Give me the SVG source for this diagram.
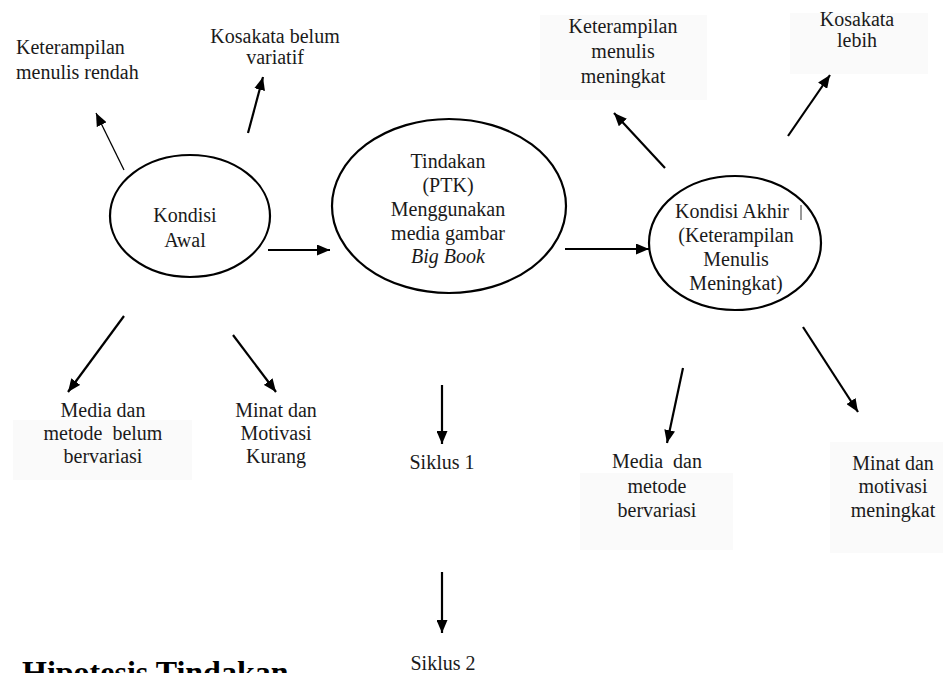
<svg xmlns="http://www.w3.org/2000/svg" width="943" height="673" viewBox="0 0 943 673">
<defs>
<marker id="ah" markerUnits="userSpaceOnUse" markerWidth="13" markerHeight="11" refX="13" refY="5.5" orient="auto">
<path d="M0,0 L13,5.5 L0,11 z" fill="#000"/>
</marker>
<style>
text{font-family:"Liberation Serif","Times New Roman",serif;font-size:20px;fill:#1a1a1a}
.c{text-anchor:middle}
.node{fill:#fff;stroke:#000;stroke-width:2.2}
.bg{fill:#fafafa}
.ar{stroke:#000;stroke-width:2.2;fill:none;marker-end:url(#ah)}
.thin{stroke-width:1.3}
.h{font-weight:bold;font-size:32px;fill:#000}
</style>
</defs>
<rect width="943" height="673" fill="#fff"/>

<g id="connectors">
<line class="ar thin" x1="124" y1="170" x2="96" y2="113"/>
<line class="ar" x1="248" y1="133" x2="263" y2="77"/>
<line class="ar" x1="268" y1="250" x2="330" y2="250"/>
<line class="ar" x1="565" y1="249" x2="649" y2="249"/>
<line class="ar" x1="665" y1="168" x2="614" y2="113"/>
<line class="ar" x1="788" y1="136" x2="830" y2="75"/>
<line class="ar" x1="124" y1="316" x2="68" y2="392"/>
<line class="ar" x1="233" y1="335" x2="276" y2="392"/>
<line class="ar" x1="683" y1="368" x2="667" y2="443"/>
<line class="ar" x1="803" y1="327" x2="858" y2="412"/>
<line class="ar" x1="442" y1="385" x2="442" y2="444"/>
<line class="ar" x1="442" y1="572" x2="442" y2="633"/>
</g>

<g id="kondisi-awal">
<ellipse class="node" cx="190" cy="216" rx="80" ry="61"/>
<text class="c" x="185" y="222">Kondisi</text>
<text class="c" x="185" y="247">Awal</text>
</g>

<g id="tindakan">
<ellipse class="node" cx="449" cy="206" rx="117" ry="87"/>
<text class="c" x="448" y="168">Tindakan</text>
<text class="c" x="448" y="192">(PTK)</text>
<text class="c" x="448" y="216">Menggunakan</text>
<text class="c" x="448" y="240">media gambar</text>
<text class="c" x="448" y="263" font-style="italic">Big Book</text>
</g>

<g id="kondisi-akhir">
<ellipse class="node" cx="735" cy="243" rx="86" ry="67"/>
<text x="675" y="218">Kondisi Akhir</text>
<line x1="801" y1="205" x2="801" y2="220" stroke="#333" stroke-width="1"/>
<text class="c" x="736" y="242">(Keterampilan</text>
<text class="c" x="736" y="266">Menulis</text>
<text class="c" x="736" y="290">Meningkat)</text>
</g>

<g id="keterampilan-rendah">
<text x="16" y="54">Keterampilan</text>
<text x="16" y="79">menulis rendah</text>
</g>

<g id="kosakata-belum">
<text class="c" x="275" y="43">Kosakata belum</text>
<text class="c" x="275" y="64">variatif</text>
</g>

<g id="keterampilan-meningkat">
<rect class="bg" x="540" y="15" width="167" height="85"/>
<text class="c" x="623" y="33">Keterampilan</text>
<text class="c" x="623" y="58">menulis</text>
<text class="c" x="623" y="83">meningkat</text>
</g>

<g id="kosakata-lebih">
<rect class="bg" x="790" y="13" width="138" height="61"/>
<text class="c" x="857" y="26">Kosakata</text>
<text class="c" x="857" y="47">lebih</text>
</g>

<g id="media-belum">
<rect class="bg" x="13" y="420" width="179" height="60"/>
<text class="c" x="103" y="417">Media dan</text>
<text class="c" x="103" y="440" xml:space="preserve">metode  belum</text>
<text class="c" x="103" y="463">bervariasi</text>
</g>

<g id="minat-kurang">
<text class="c" x="276" y="417">Minat dan</text>
<text class="c" x="276" y="440">Motivasi</text>
<text class="c" x="276" y="463">Kurang</text>
</g>

<g id="siklus-1">
<text class="c" x="442" y="469" font-size="19">Siklus 1</text>
</g>

<g id="siklus-2">
<text class="c" x="443" y="670" font-size="19">Siklus 2</text>
</g>

<g id="media-bervariasi">
<rect class="bg" x="580" y="473" width="153" height="77"/>
<text class="c" x="657" y="468" xml:space="preserve">Media  dan</text>
<text class="c" x="657" y="493">metode</text>
<text class="c" x="657" y="517">bervariasi</text>
</g>

<g id="minat-meningkat">
<rect class="bg" x="830" y="442" width="113" height="111"/>
<text class="c" x="893" y="470">Minat dan</text>
<text class="c" x="893" y="493">motivasi</text>
<text class="c" x="893" y="517">meningkat</text>
</g>

<g id="hipotesis">
<text class="h" x="22" y="683">Hipotesis Tindakan</text>
</g>
</svg>
